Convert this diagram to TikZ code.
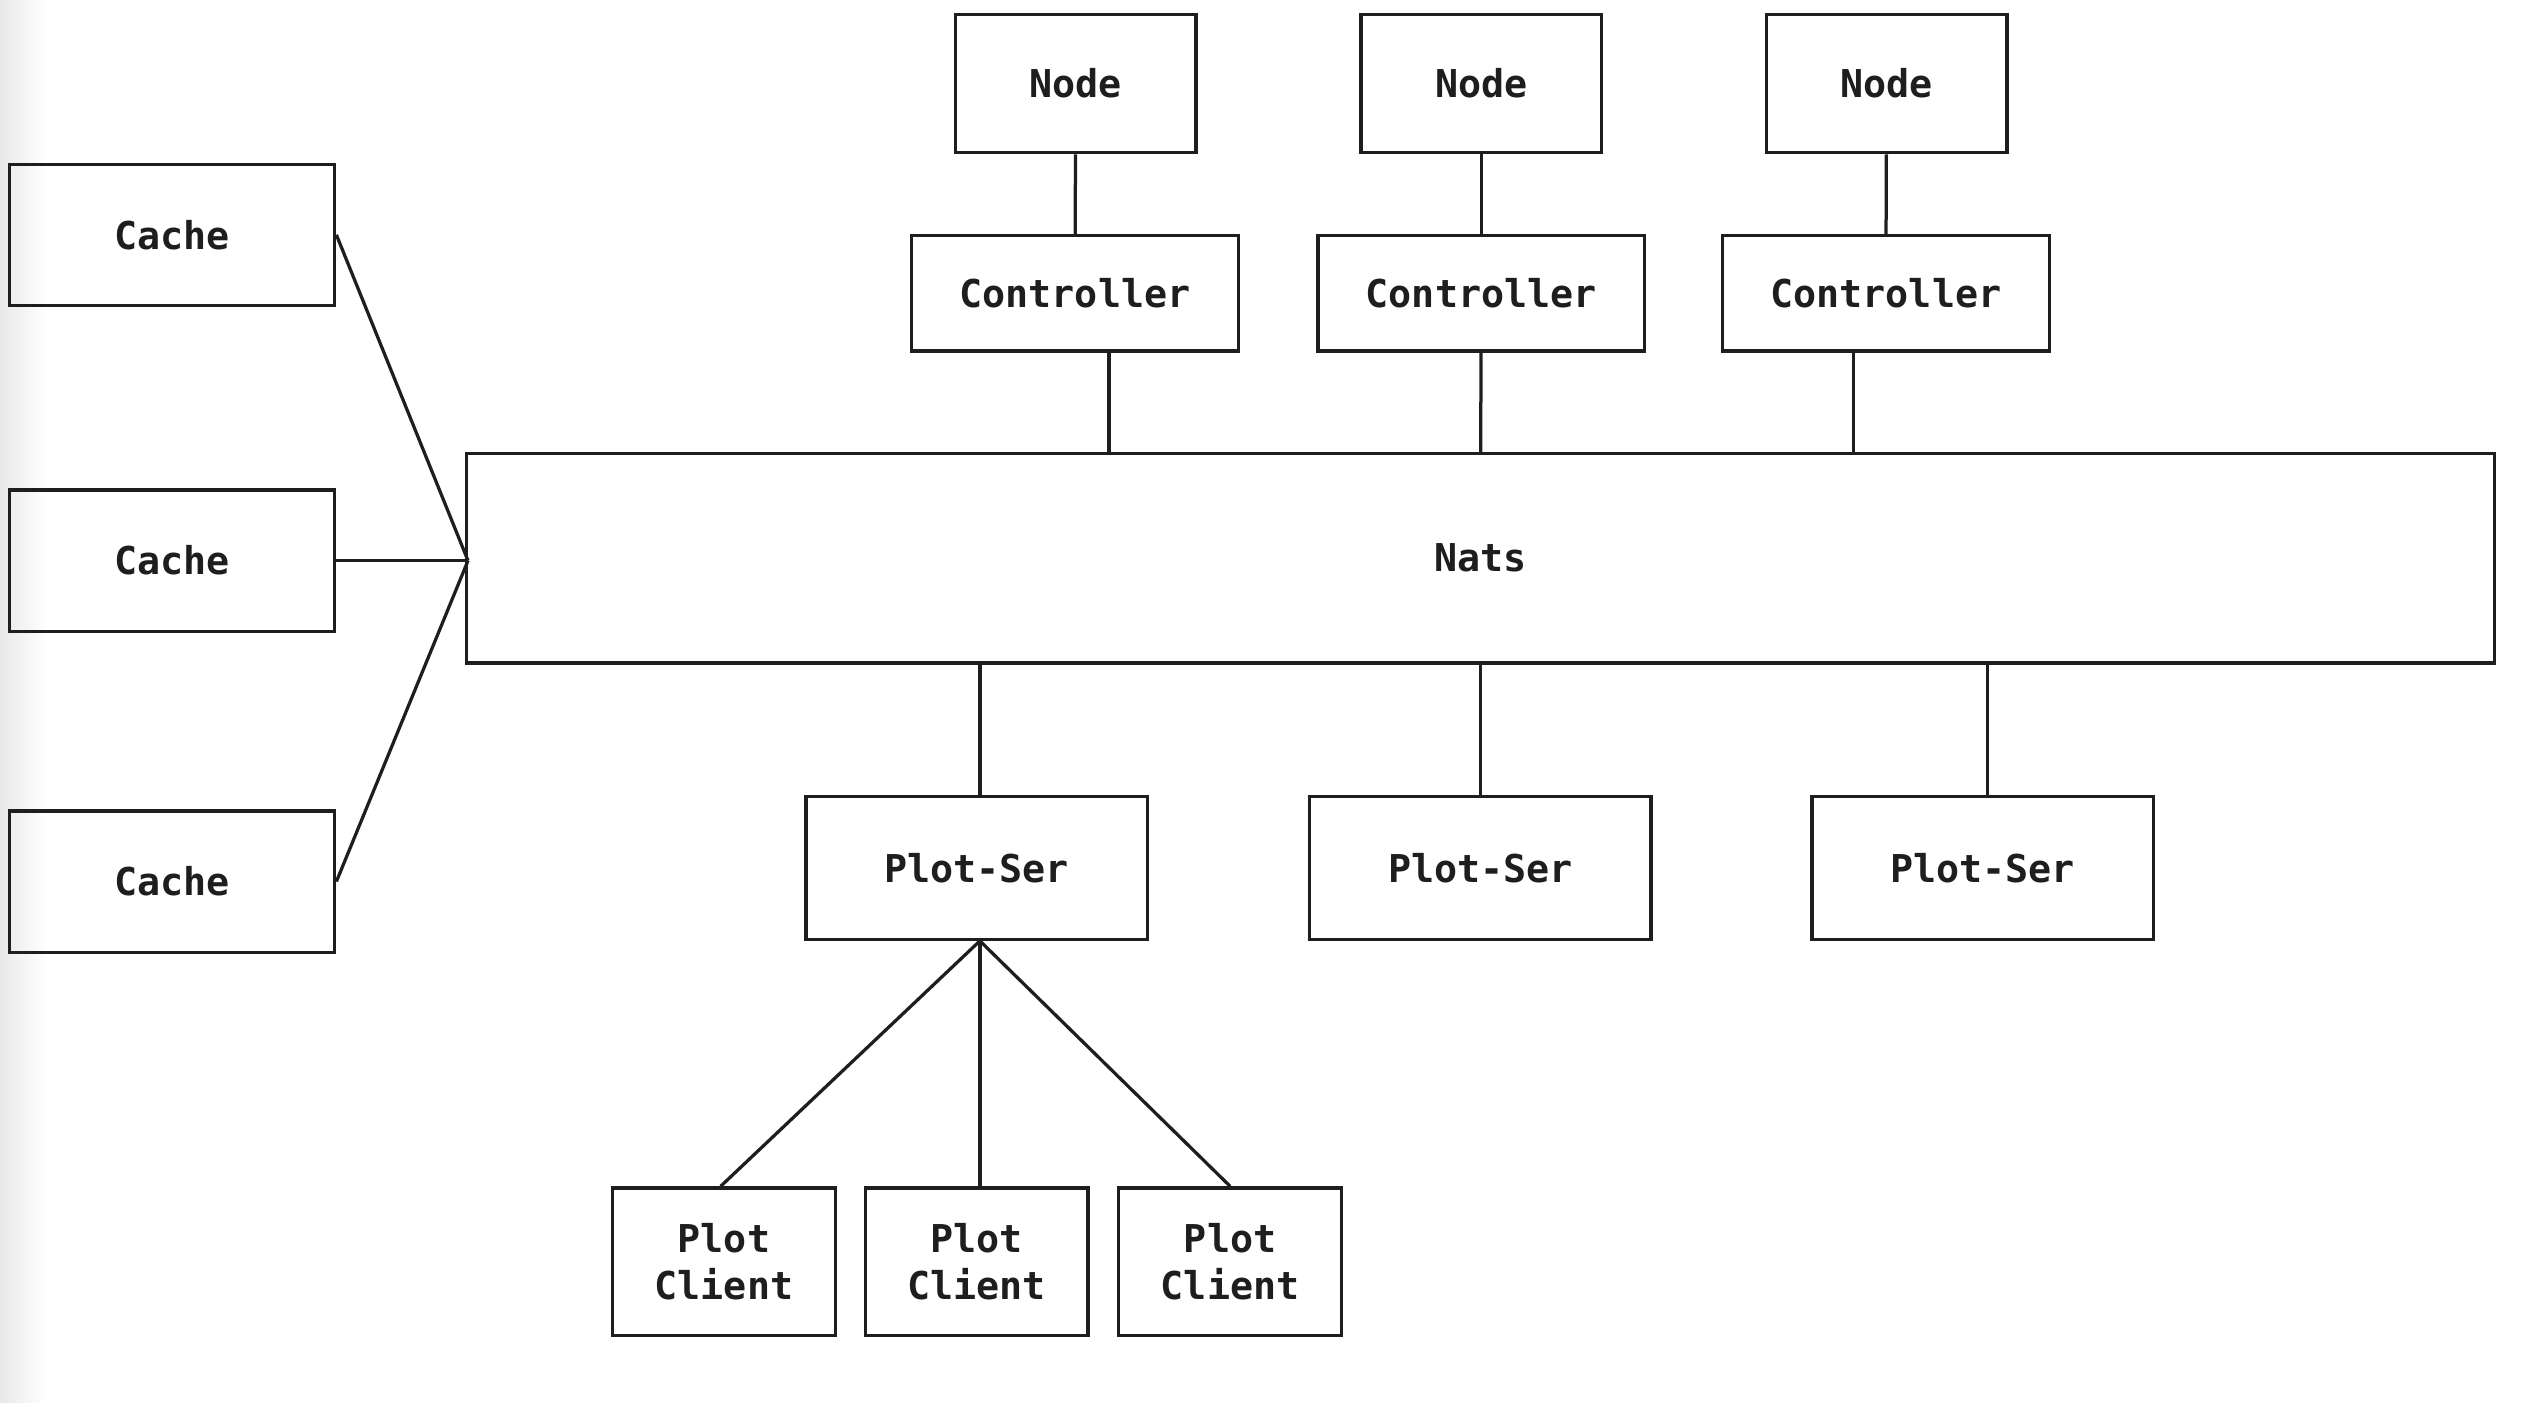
\documentclass[tikz,border=0pt]{standalone}
\usepackage{fontspec}
\setmonofont{DejaVu Sans Mono}
\usetikzlibrary{positioning}
\definecolor{hline}{RGB}{30,30,30}

\begin{document}
\begin{tikzpicture}[x=1pt,y=-1pt,line width=2pt,
    box/.style={draw=hline,rectangle,inner sep=0pt,align=center,text=hline,
      font=\ttfamily\bfseries\fontsize{23.6}{29}\selectfont},
    nodebox/.style={box,minimum width=148pt,minimum height=85pt},
    ctrlbox/.style={box,minimum width=201pt,minimum height=71pt},
    cachebox/.style={box,minimum width=200pt,minimum height=87pt},
    serbox/.style={box,minimum width=210pt,minimum height=88pt},
    clientbox/.style={box,minimum width=137pt,minimum height=91pt}]
	  \useasboundingbox (0,0) rectangle (1568,863);
	  \shade[left color=black!9,right color=white,draw=none] (0,0) rectangle (28,863);

	  \node[nodebox]   (N1) at (662,51.5)    {Node};
	  \node[nodebox]   (N2) at (911.5,51.5)  {Node};
	  \node[nodebox]   (N3) at (1161,51.5)   {Node};
	  \node[ctrlbox]   (C1) at (661.5,180.5) {Controller};
	  \node[ctrlbox]   (C2) at (911.5,180.5) {Controller};
	  \node[ctrlbox]   (C3) at (1160.5,180.5) {Controller};
	  \node[box, minimum width=1248pt, minimum height=129pt] (Nats) at (911,343.5) {Nats};
	  \node[cachebox]  (K1) at (106,144.5)   {Cache};
	  \node[cachebox]  (K2) at (106,345)     {Cache};
	  \node[cachebox]  (K3) at (106,542.5)   {Cache};
	  \node[serbox]    (S1) at (601,534)     {Plot-Ser};
	  \node[serbox]    (S2) at (911,534)     {Plot-Ser};
	  \node[serbox]    (S3) at (1220,534)    {Plot-Ser};
	  \node[clientbox] (P1) at (445.5,776.5) {Plot\\Client};
	  \node[clientbox] (P2) at (601,776.5)   {Plot\\Client};
	  \node[clientbox] (P3) at (757,776.5)   {Plot\\Client};
	  \coordinate (hub) at ([xshift=2pt]K2.east -| Nats.west);

	  \path[draw=hline]
		(N1) edge (C1)
		(N2) edge (C2)
		(N3) edge (C3)
		([xshift=21pt]C1.south) edge ([xshift=21pt]C1.south |- Nats.north)
		(C2) edge (Nats)
		([xshift=-20pt]C3.south) edge ([xshift=-20pt]C3.south |- Nats.north)
		(K1.east) edge (hub)
		(K2.east) edge (hub)
		(K3.east) edge (hub)
		([xshift=2pt]S1.north |- Nats.south) edge ([xshift=2pt]S1.north)
		(Nats.south -| S2.north) edge (S2)
		([xshift=3pt]S3.north |- Nats.south) edge ([xshift=3pt]S3.north)
		([xshift=2pt]S1.south) edge ([xshift=-2pt]P1.north)
		([xshift=2pt]S1.south) edge ([xshift=2pt]P2.north)
		([xshift=2pt]S1.south) edge (P3.north)
	;
	\end{tikzpicture}
\end{document}
